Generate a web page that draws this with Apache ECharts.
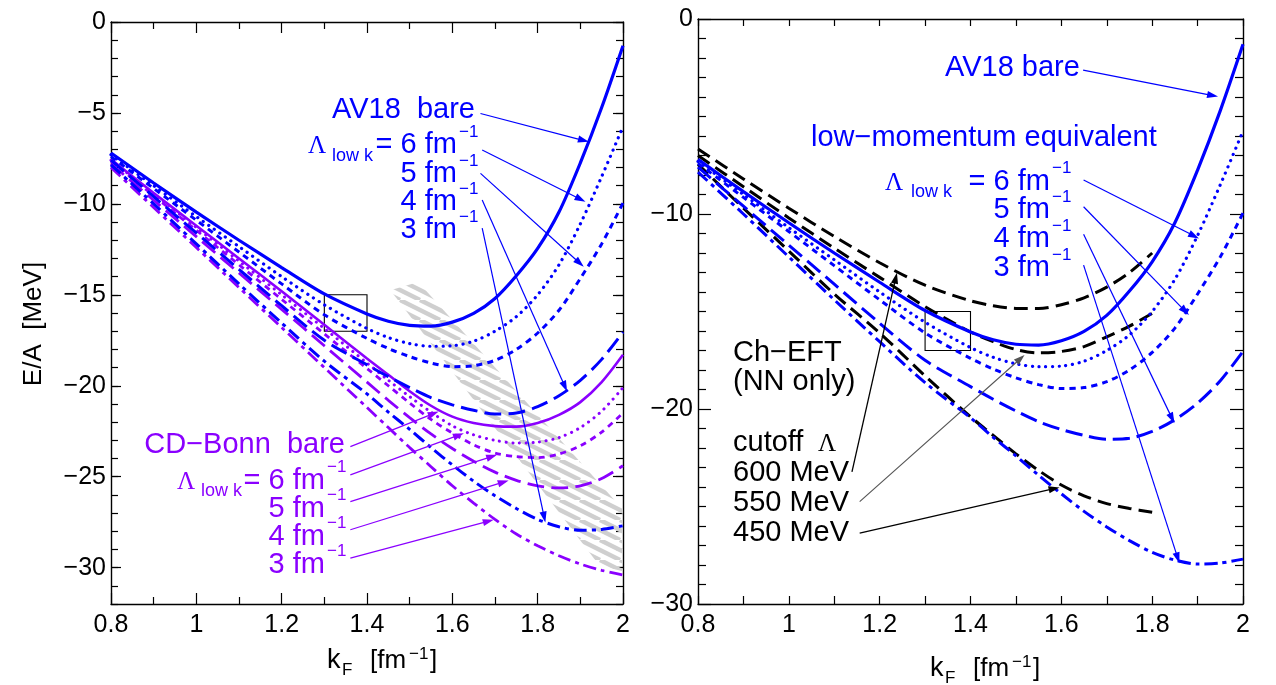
<!DOCTYPE html>
<html>
<head>
<meta charset="utf-8">
<script src="https://cdn.jsdelivr.net/npm/echarts@6/dist/echarts.min.js"></script>
<style>
  html, body { margin: 0; padding: 0; background: #fff; }
  #chart { width: 1276px; height: 685px; }
</style>
</head>
<body>
<div id="chart"></div>
<script>
// Fermi momentum grids [fm^-1]
const KF = [0.8, 0.9, 1.0, 1.1, 1.2, 1.3, 1.4, 1.45, 1.5, 1.55, 1.6, 1.65, 1.7, 1.75, 1.8, 1.85, 1.9, 1.95, 2.0];
const KF_EFT = [0.8, 0.9, 1.0, 1.1, 1.2, 1.3, 1.4, 1.45, 1.5, 1.55, 1.6, 1.65, 1.7, 1.75, 1.8];

// E/A [MeV] — AV18 bare and its low-momentum versions
const AV18_BARE = [-7.2, -8.85, -10.45, -12.0, -13.5, -14.95, -16.05, -16.45, -16.68, -16.72, -16.5, -16.02, -15.2, -13.95, -12.45, -10.45, -7.75, -4.7, -1.3];
const AV18_LK6  = [-7.3, -9.0, -10.7, -12.35, -14.0, -15.55, -16.85, -17.35, -17.68, -17.83, -17.8, -17.55, -17.0, -16.2, -15.0, -13.35, -11.1, -8.5, -5.75];
const AV18_LK5  = [-7.4, -9.15, -10.9, -12.65, -14.4, -16.1, -17.4, -17.95, -18.4, -18.75, -18.95, -18.9, -18.6, -18.0, -17.1, -15.85, -14.1, -12.2, -9.95];
const AV18_LK4  = [-7.6, -9.6, -11.6, -13.6, -15.6, -17.5, -18.85, -19.5, -20.1, -20.65, -21.05, -21.35, -21.55, -21.5, -21.15, -20.55, -19.7, -18.55, -17.05];
const AV18_LK3  = [-7.85, -10.0, -12.2, -14.4, -16.55, -18.65, -20.45, -21.45, -22.4, -23.4, -24.35, -25.25, -26.05, -26.75, -27.35, -27.75, -27.95, -27.9, -27.7];

// E/A [MeV] — CD-Bonn bare and its low-momentum versions
const CDB_BARE = [-7.55, -9.4, -11.2, -13.0, -14.8, -16.65, -18.5, -19.4, -20.3, -21.1, -21.7, -22.05, -22.22, -22.25, -22.05, -21.6, -20.9, -19.8, -18.3];
const CDB_LK6  = [-7.6, -9.45, -11.3, -13.15, -15.0, -16.85, -18.75, -19.7, -20.6, -21.45, -22.2, -22.7, -23.0, -23.15, -23.1, -22.85, -22.3, -21.4, -20.1];
const CDB_LK5  = [-7.65, -9.55, -11.45, -13.35, -15.25, -17.15, -19.05, -20.0, -20.95, -21.85, -22.6, -23.25, -23.7, -23.9, -23.95, -23.75, -23.3, -22.55, -21.5];
const CDB_LK4  = [-7.8, -9.8, -11.8, -13.8, -15.8, -17.8, -19.8, -20.8, -21.75, -22.65, -23.45, -24.15, -24.75, -25.2, -25.5, -25.62, -25.5, -25.1, -24.4];
const CDB_LK3  = [-8.0, -10.2, -12.4, -14.6, -16.8, -19.0, -21.2, -22.3, -23.4, -24.45, -25.5, -26.45, -27.35, -28.15, -28.8, -29.35, -29.8, -30.15, -30.4];

// E/A [MeV] — chiral EFT (NN only) for three cutoffs
const EFT_600 = [-6.67, -8.2, -9.7, -11.15, -12.5, -13.65, -14.45, -14.7, -14.84, -14.85, -14.65, -14.3, -13.75, -13.0, -12.0];
const EFT_550 = [-7.0, -8.6, -10.2, -11.75, -13.25, -14.75, -16.05, -16.55, -16.95, -17.12, -17.05, -16.8, -16.3, -15.75, -15.1];
const EFT_450 = [-7.45, -9.7, -11.9, -14.1, -16.1, -18.3, -20.4, -21.35, -22.3, -23.15, -23.9, -24.45, -24.85, -25.1, -25.3];

// Hatched saturation band outline (kF, E/A)
const BAND_X = [1.455, 1.52, 2.0, 2.0, 1.945];
const BAND_Y = [-14.75, -14.3, -26.8, -30.2, -29.9];

// Empirical saturation box (kF range, E/A range)
const BOX_X = [1.3, 1.4];
const BOX_Y = [-15, -17];

// Tick label values
const Y_TICKS_LEFT = [-30, -25, -20, -15, -10, -5, 0];

// Pointer arrows: [kF start, E/A start, kF tip, E/A tip]
const ARROWS_AV18_L = [
  [1.666, -5.03, 1.92, -6.59],
  [1.67, -7.04, 1.912, -9.88],
  [1.666, -8.32, 1.908, -13.46],
  [1.67, -9.79, 1.869, -20.32],
  [1.67, -11.33, 1.818, -27.52]
];
const ARROWS_CDB_L = [
  [1.361, -23.35, 1.568, -21.42],
  [1.361, -24.9, 1.627, -22.61],
  [1.361, -26.37, 1.705, -23.8],
  [1.361, -27.92, 1.732, -25.21],
  [1.361, -29.48, 1.697, -27.37]
];
const ARROWS_AV18_R = [
  [1.648, -2.62, 1.945, -3.98],
  [1.649, -8.26, 1.903, -11.25],
  [1.649, -9.63, 1.881, -15.18],
  [1.649, -11.04, 1.849, -20.73],
  [1.649, -12.62, 1.86, -27.91]
];
const ARROWS_EFT_R = [
  [1.139, -23.22, 1.238, -13.01],
  [1.156, -26.37, 1.596, -24.02]
];
const ARROWS_EFT550_R = [
  [1.156, -24.75, 1.519, -17.23]
];

const BLUE = '#0000ff';
const PURPLE = '#8a00ff';
const SANS = '"Liberation Sans", Arial, Helvetica, sans-serif';
const SERIF = '"Liberation Serif", "Times New Roman", serif';

// Line dash patterns
const DOT = [0.1, 6.6];
const SHORT = [6, 5];
const LONG = [17, 7];
const DASHDOT = [13, 5, 4, 5];
const EFT_DASH = [14, 7];

const chart = echarts.init(document.getElementById('chart'), null, { renderer: 'canvas' });

function fmtX(v) { return String(Math.round(v * 10) / 10); }
function fmtY(v) { return v === 0 ? '0' : '\u2212' + Math.abs(v); }

const LINE = { show: true, onZero: false, lineStyle: { color: '#000', width: 1.4 } };
const TICK_STYLE = { color: '#000', width: 1.2 };

function xAxis(grid, pos, labels, major, minor) {
  return {
    type: 'value', gridIndex: grid, position: pos, min: 0.8, max: 2, interval: 0.2,
    axisLine: LINE,
    axisTick: { show: true, inside: true, length: major, lineStyle: TICK_STYLE },
    minorTick: { show: true, splitNumber: 2, length: minor, lineStyle: TICK_STYLE },
    splitLine: { show: false }, minorSplitLine: { show: false },
    axisLabel: { show: labels, fontSize: 25, fontFamily: SANS, color: '#000', margin: 9,
      showMinLabel: true, showMaxLabel: true, formatter: fmtX }
  };
}

const xAxes = [
  xAxis(0, 'bottom', true, 11, 7),
  xAxis(0, 'top', false, 11, 7),
  xAxis(1, 'bottom', true, 8, 8),
  xAxis(1, 'top', false, 7, 7)
];

function yMinor(grid, pos, min) {
  return {
    type: 'value', gridIndex: grid, position: pos, min: min, max: 0, interval: 1,
    axisLine: LINE,
    axisTick: { show: true, inside: true, length: 7, lineStyle: TICK_STYLE },
    axisLabel: { show: false }, splitLine: { show: false }
  };
}
function yMajor(grid, pos, min, values, labels) {
  return {
    type: 'value', gridIndex: grid, position: pos, min: min, max: 0,
    axisLine: { show: false },
    axisTick: { show: true, inside: true, length: 10, customValues: values, lineStyle: TICK_STYLE },
    axisLabel: { show: labels, customValues: values, fontSize: 25, fontFamily: SANS, color: '#000', margin: 5, formatter: fmtY },
    splitLine: { show: false }
  };
}
function yRight(grid, pos, labels) {
  return {
    type: 'value', gridIndex: grid, position: pos, min: -30, max: 0, interval: 10,
    axisLine: LINE,
    axisTick: { show: true, inside: true, length: 13, lineStyle: TICK_STYLE },
    minorTick: { show: true, splitNumber: 10, length: 8, lineStyle: TICK_STYLE },
    axisLabel: { show: labels, fontSize: 25, fontFamily: SANS, color: '#000', margin: 5, formatter: fmtY,
      showMinLabel: true, showMaxLabel: true },
    splitLine: { show: false }, minorSplitLine: { show: false }
  };
}

const yAxes = [
  yMinor(0, 'left', -32),
  yMajor(0, 'left', -32, Y_TICKS_LEFT, true),
  yMinor(0, 'right', -32),
  yMajor(0, 'right', -32, Y_TICKS_LEFT, false),
  yRight(1, 'left', true),
  yRight(1, 'right', false)
];

function curve(name, xi, yi, xs, ys, color, width, dash, cap) {
  return {
    name: name, type: 'line', xAxisIndex: xi, yAxisIndex: yi,
    data: xs.map(function (x, i) { return [x, ys[i]]; }),
    smooth: 0.3, showSymbol: false, symbol: 'none', clip: true, silent: true, z: 3,
    lineStyle: { color: color, width: width, type: dash, cap: cap || 'butt' }
  };
}

// thin pointer line ending in a filled triangular head at the tip
function arrows(xi, yi, color, width, list) {
  return {
    type: 'custom', xAxisIndex: xi, yAxisIndex: yi, silent: true, z: 4, clip: false,
    data: list,
    renderItem: function (params, api) {
      const p1 = api.coord([api.value(0), api.value(1)]);
      const p2 = api.coord([api.value(2), api.value(3)]);
      const dx = p2[0] - p1[0], dy = p2[1] - p1[1];
      const len = Math.sqrt(dx * dx + dy * dy);
      const ux = dx / len, uy = dy / len;
      const hl = 11, hw = 3.6;
      const bx = p2[0] - ux * hl, by = p2[1] - uy * hl;
      return {
        type: 'group',
        children: [
          { type: 'line', shape: { x1: p1[0], y1: p1[1], x2: bx + ux * 2, y2: by + uy * 2 },
            style: { stroke: color, lineWidth: width } },
          { type: 'polygon',
            shape: { points: [[p2[0], p2[1]], [bx - uy * hw, by + ux * hw], [bx + uy * hw, by - ux * hw]] },
            style: { fill: color, stroke: null } }
        ]
      };
    }
  };
}

function box(xi, yi) {
  return {
    type: 'line', xAxisIndex: xi, yAxisIndex: yi, data: [], silent: true, z: 2,
    markArea: {
      silent: true, animation: false,
      itemStyle: { color: 'rgba(0,0,0,0)', borderColor: '#000', borderWidth: 1.1 },
      data: [[{ coord: [BOX_X[0], BOX_Y[0]] }, { coord: [BOX_X[1], BOX_Y[1]] }]]
    }
  };
}

// diagonal hatch used to fill the band (seamless tile of parallel strokes)
function hatchCanvas() {
  const w = 40, h = 20, step = 20;
  const c = document.createElement('canvas');
  c.width = w; c.height = h;
  const g = c.getContext('2d');
  g.strokeStyle = '#cfcfcf';
  g.lineWidth = 4.4;
  for (let dx = -2 * w; dx <= 2 * w; dx += step) {
    g.beginPath(); g.moveTo(dx, 0); g.lineTo(dx + w, h); g.stroke();
  }
  return c;
}
const HATCH = { type: 'pattern', image: hatchCanvas(), repeat: 'repeat' };

const series = [
  {
    type: 'custom', xAxisIndex: 0, yAxisIndex: 0, silent: true, z: 1, clip: true,
    data: [[BAND_X[0], BAND_Y[0]]],
    renderItem: function (params, api) {
      return {
        type: 'polygon',
        shape: { points: BAND_X.map(function (x, i) { return api.coord([x, BAND_Y[i]]); }) },
        style: { fill: HATCH, stroke: null }
      };
    }
  },
  box(0, 0),
  box(2, 4),

  // left panel: CD-Bonn family
  curve('CD-Bonn bare', 0, 0, KF, CDB_BARE, PURPLE, 2.6, 'solid'),
  curve('CD-Bonn 6', 0, 0, KF, CDB_LK6, PURPLE, 3, DOT, 'round'),
  curve('CD-Bonn 5', 0, 0, KF, CDB_LK5, PURPLE, 2.8, SHORT),
  curve('CD-Bonn 4', 0, 0, KF, CDB_LK4, PURPLE, 2.8, LONG),
  curve('CD-Bonn 3', 0, 0, KF, CDB_LK3, PURPLE, 2.8, DASHDOT),

  // left panel: AV18 family
  curve('AV18 bare', 0, 0, KF, AV18_BARE, BLUE, 3.2, 'solid'),
  curve('AV18 6', 0, 0, KF, AV18_LK6, BLUE, 3.2, DOT, 'round'),
  curve('AV18 5', 0, 0, KF, AV18_LK5, BLUE, 3, SHORT),
  curve('AV18 4', 0, 0, KF, AV18_LK4, BLUE, 3, LONG),
  curve('AV18 3', 0, 0, KF, AV18_LK3, BLUE, 3, DASHDOT),

  // right panel: chiral EFT
  curve('EFT 600', 2, 4, KF_EFT, EFT_600, '#000', 3, EFT_DASH),
  curve('EFT 550', 2, 4, KF_EFT, EFT_550, '#000', 3, EFT_DASH),
  curve('EFT 450', 2, 4, KF_EFT, EFT_450, '#000', 3, EFT_DASH),

  // right panel: AV18 family
  curve('AV18 bare R', 2, 4, KF, AV18_BARE, BLUE, 3.2, 'solid'),
  curve('AV18 6 R', 2, 4, KF, AV18_LK6, BLUE, 3.2, DOT, 'round'),
  curve('AV18 5 R', 2, 4, KF, AV18_LK5, BLUE, 3, SHORT),
  curve('AV18 4 R', 2, 4, KF, AV18_LK4, BLUE, 3, LONG),
  curve('AV18 3 R', 2, 4, KF, AV18_LK3, BLUE, 3, DASHDOT),

  arrows(0, 0, BLUE, 1.2, ARROWS_AV18_L),
  arrows(0, 0, PURPLE, 1.2, ARROWS_CDB_L),
  arrows(2, 4, BLUE, 1.2, ARROWS_AV18_R),
  arrows(2, 4, '#000', 1.3, ARROWS_EFT_R),
  arrows(2, 4, '#555', 1.1, ARROWS_EFT550_R)
];

// text annotations
const G = [];
function txt(x, y, s, size, color, align, family, extra) {
  const el = {
    type: 'text', x: x, y: y, silent: true, z: 10,
    style: { text: s, fill: color, font: size + 'px ' + (family || SANS),
      textAlign: align || 'left', textVerticalAlign: 'middle' }
  };
  G.push(Object.assign(el, extra || {}));
}
// same as txt, but y is the text baseline
function bt(x, base, s, size, color, align, family) {
  txt(x, base - 0.34 * size, s, size, color, align, family);
}

// left panel, AV18 labels
bt(475, 120, 'AV18  bare', 29, BLUE, 'right');
bt(308, 155, '\u039B', 25, BLUE, 'left', SERIF);
bt(332, 162, 'low k', 18, BLUE, 'left');
bt(457, 155, '= 6 fm', 29, BLUE, 'right');
txt(459, 132, '\u22121', 17, BLUE);
bt(457, 184, '5 fm', 29, BLUE, 'right');
txt(459, 161, '\u22121', 17, BLUE);
bt(457, 212, '4 fm', 29, BLUE, 'right');
txt(459, 189, '\u22121', 17, BLUE);
bt(457, 240, '3 fm', 29, BLUE, 'right');
txt(459, 217, '\u22121', 17, BLUE);

// left panel, CD-Bonn labels
bt(345, 455, 'CD\u2212Bonn  bare', 29, PURPLE, 'right');
bt(177, 491, '\u039B', 25, PURPLE, 'left', SERIF);
bt(201, 497, 'low k', 18, PURPLE, 'left');
bt(325, 491, '= 6 fm', 29, PURPLE, 'right');
txt(327, 467, '\u22121', 17, PURPLE);
bt(325, 519, '5 fm', 29, PURPLE, 'right');
txt(327, 495, '\u22121', 17, PURPLE);
bt(325, 547, '4 fm', 29, PURPLE, 'right');
txt(327, 523, '\u22121', 17, PURPLE);
bt(325, 575, '3 fm', 29, PURPLE, 'right');
txt(327, 551, '\u22121', 17, PURPLE);

// right panel labels
bt(945, 78, 'AV18 bare', 29, BLUE);
bt(811, 148, 'low\u2212momentum equivalent', 29, BLUE);
bt(885, 192, '\u039B', 25, BLUE, 'left', SERIF);
bt(911, 198, 'low k', 18, BLUE);
bt(1050, 192, '= 6 fm', 29, BLUE, 'right');
txt(1052, 168, '\u22121', 17, BLUE);
bt(1050, 220, '5 fm', 29, BLUE, 'right');
txt(1052, 197, '\u22121', 17, BLUE);
bt(1050, 249, '4 fm', 29, BLUE, 'right');
txt(1052, 226, '\u22121', 17, BLUE);
bt(1050, 278, '3 fm', 29, BLUE, 'right');
txt(1052, 255, '\u22121', 17, BLUE);

bt(733, 363, 'Ch\u2212EFT', 29, '#000');
bt(733, 392, '(NN only)', 29, '#000');
bt(733, 453, 'cutoff', 29, '#000');
bt(818, 453, '\u039B', 25, '#000', 'left', SERIF);
bt(733, 483, '600 MeV', 29, '#000');
bt(733, 513, '550 MeV', 29, '#000');
bt(733, 543, '450 MeV', 29, '#000');

// axis titles: k_F [fm^-1]
function kTitle(x0, base) {
  bt(x0, base, 'k', 27, '#000');
  bt(x0 + 15, base + 6, 'F', 17, '#000');
  bt(x0 + 43, base, '[fm', 26, '#000');
  txt(x0 + 82, base - 16, '\u22121', 17, '#000');
  bt(x0 + 103, base, ']', 26, '#000');
}
kTitle(327, 670);
kTitle(930, 678);
txt(34, 324, 'E/A  [MeV]', 26, '#000', 'center', SANS, { rotation: Math.PI / 2 });

chart.setOption({
  animation: false,
  backgroundColor: '#fff',
  grid: [
    { left: 111, top: 22, width: 512, height: 582 },
    { left: 698, top: 19, width: 545, height: 585 }
  ],
  xAxis: xAxes,
  yAxis: yAxes,
  series: series,
  graphic: G
});
</script>
</body>
</html>
